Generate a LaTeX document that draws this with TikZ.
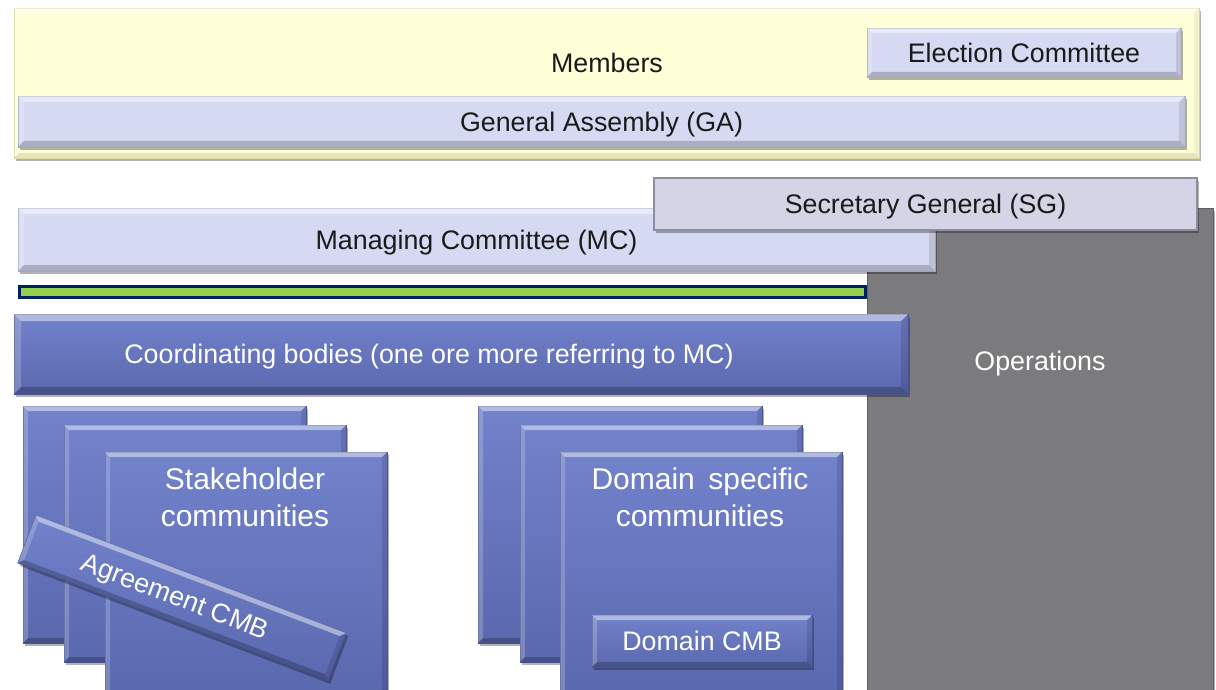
\documentclass[tikz,border=0pt]{standalone}
\usepackage{fontspec}
\setmainfont{Liberation Sans}
\usetikzlibrary{calc,shadows}

\definecolor{memberfill}{HTML}{FFFFD8}
\definecolor{memberedge}{HTML}{DCD89A}
\definecolor{lavender}{HTML}{D6D9F2}
\definecolor{lavedge}{HTML}{A4A8C8}
\definecolor{sgfill}{HTML}{D4D4E6}
\definecolor{sgedge}{HTML}{8C8CA3}
\definecolor{opsfill}{HTML}{7B7B7D}
\definecolor{opsedge}{HTML}{5E5E60}
\definecolor{bluetop}{HTML}{7282CB}
\definecolor{bluebot}{HTML}{5A68AE}
\definecolor{blueedge}{HTML}{4A5694}
\definecolor{bargreen}{HTML}{92D050}
\definecolor{barnavy}{HTML}{002060}
\definecolor{darktext}{HTML}{1A1A1A}

% bevelled edges of a rectangular node: light top/left, dark bottom/right
% #1 node name, #2 bevel width, #3 strength of the dark edges
\newcommand\dobevel[3]{%
  \coordinate (bA) at (#1.north west);
  \coordinate (bB) at (#1.north east);
  \coordinate (bC) at (#1.south east);
  \coordinate (bD) at (#1.south west);
  \coordinate (ba) at ($(bA)!#2!(bB) + (bA)!#2!(bD) - (bA)$);
  \coordinate (bb) at ($(bB)!#2!(bA) + (bB)!#2!(bC) - (bB)$);
  \coordinate (bc) at ($(bC)!#2!(bD) + (bC)!#2!(bB) - (bC)$);
  \coordinate (bd) at ($(bD)!#2!(bC) + (bD)!#2!(bA) - (bD)$);
  \fill[white,opacity=.45] (bA) -- (bB) -- (bb) -- (ba) -- cycle;
  \fill[white,opacity=.2] (bA) -- (ba) -- (bd) -- (bD) -- cycle;
  \fill[black,opacity=#3*.55] (bB) -- (bC) -- (bc) -- (bb) -- cycle;
  \fill[black,opacity=#3] (bD) -- (bC) -- (bc) -- (bd) -- cycle;
}

\begin{document}
\begin{tikzpicture}[x=1pt,y=-1pt,
  base/.style={rectangle,inner sep=0pt,outer sep=0pt,anchor=north west},
  softshadow/.style={drop shadow={shadow xshift=2pt,shadow yshift=-3pt,opacity=.3,fill=black}},
  memberbox/.style={base,softshadow,fill=memberfill,draw=memberedge,line width=.8pt},
  lavbox/.style={base,softshadow,fill=lavender,draw=lavedge,line width=.8pt},
  sgbox/.style={base,softshadow,fill=sgfill,draw=sgedge,line width=2pt},
  opsbox/.style={base,softshadow,fill=opsfill,draw=opsedge,line width=1pt},
  bluebox/.style={base,softshadow,top color=bluetop,bottom color=bluebot,draw=blueedge,line width=.6pt},
  greenbar/.style={base,fill=bargreen,draw=barnavy,line width=3pt},
  plain/.style={inner sep=0pt,text height=19.2pt,text depth=0pt,
    font=\fontsize{26.8}{32}\selectfont},
  commtext/.style={inner sep=0pt,align=center,text=white,font=\fontsize{30}{37}\selectfont}
]
\clip (0,0) rectangle (1216,690);
\fill[white] (0,0) rectangle (1216,690);

% members area
\node[memberbox,minimum width=1185pt,minimum height=150pt] (members) at (14,8) {};
\dobevel{members}{5pt}{.1}
\node[plain,text=darktext] (memberslbl) at (607,63) {Members};
\node[lavbox,minimum width=314pt,minimum height=49pt] (election) at (867,28) {};
\dobevel{election}{5pt}{.2}
\node[plain,text=darktext] (electionlbl) at (election.center) {Election Committee};
\node[lavbox,minimum width=1167pt,minimum height=51pt] (ga) at (18,96) {};
\dobevel{ga}{6pt}{.2}
\node[plain,text=darktext] (galbl) at (ga.center) {General Assembly (GA)};

% separator bar
\node[greenbar,minimum width=846pt,minimum height=11pt] (bar) at (19.5,286.5) {};

% operations column
\node[opsbox,minimum width=346pt,minimum height=490pt] (ops) at (867,208) {};
\node[plain,text=white] (opslbl) at (1040,361) {Operations};

% managing committee and secretary general
\node[lavbox,minimum width=917pt,minimum height=63pt] (mc) at (18,208) {};
\dobevel{mc}{6pt}{.2}
\node[plain,text=darktext] (mclbl) at (mc.center) {Managing Committee (MC)};
\node[sgbox,minimum width=543pt,minimum height=52pt] (sg) at (654,178) {};
\node[plain,text=darktext] (sglbl) at (sg.center) {Secretary General (SG)};

% coordinating bodies
\node[bluebox,minimum width=894pt,minimum height=80pt] (coord) at (14,314) {};
\dobevel{coord}{7pt}{.22}
\node[plain,text=white] (coordlbl) at (429,354) {Coordinating bodies (one ore more referring to MC)};

% stakeholder communities
\node[bluebox,minimum width=283pt,minimum height=237pt] (s1) at (23,406) {};
\dobevel{s1}{5pt}{.22}
\node[bluebox,minimum width=282pt,minimum height=237pt] (s2) at (64,425) {};
\dobevel{s2}{5pt}{.22}
\node[bluebox,minimum width=282pt,minimum height=245pt] (s3) at (105,452) {};
\dobevel{s3}{5pt}{.22}
\node[commtext] (stlbl) at (245,497) {Stakeholder\\communities};
\node[bluebox,anchor=center,rotate=-20.8,minimum width=332pt,minimum height=51pt] (agree) at (182,598) {};
\dobevel{agree}{5pt}{.22}
\node[plain,text=white,rotate=-20.8] (agreelbl) at ($(agree.center)!7pt!(agree.west)$) {Agreement CMB};

% domain specific communities
\node[bluebox,minimum width=284pt,minimum height=237pt] (d1) at (478,406) {};
\dobevel{d1}{5pt}{.22}
\node[bluebox,minimum width=282pt,minimum height=237pt] (d2) at (520,425) {};
\dobevel{d2}{5pt}{.22}
\node[bluebox,minimum width=282pt,minimum height=245pt] (d3) at (560,452) {};
\dobevel{d3}{5pt}{.22}
\node[commtext] (dolbl) at (700,497) {Domain\hspace{0.45em}specific\\communities};
\node[bluebox,minimum width=220pt,minimum height=52pt] (dcmb) at (592,615) {};
\dobevel{dcmb}{5pt}{.22}
\node[plain,text=white] (dcmblbl) at (dcmb.center) {Domain CMB};
\end{tikzpicture}
\end{document}
